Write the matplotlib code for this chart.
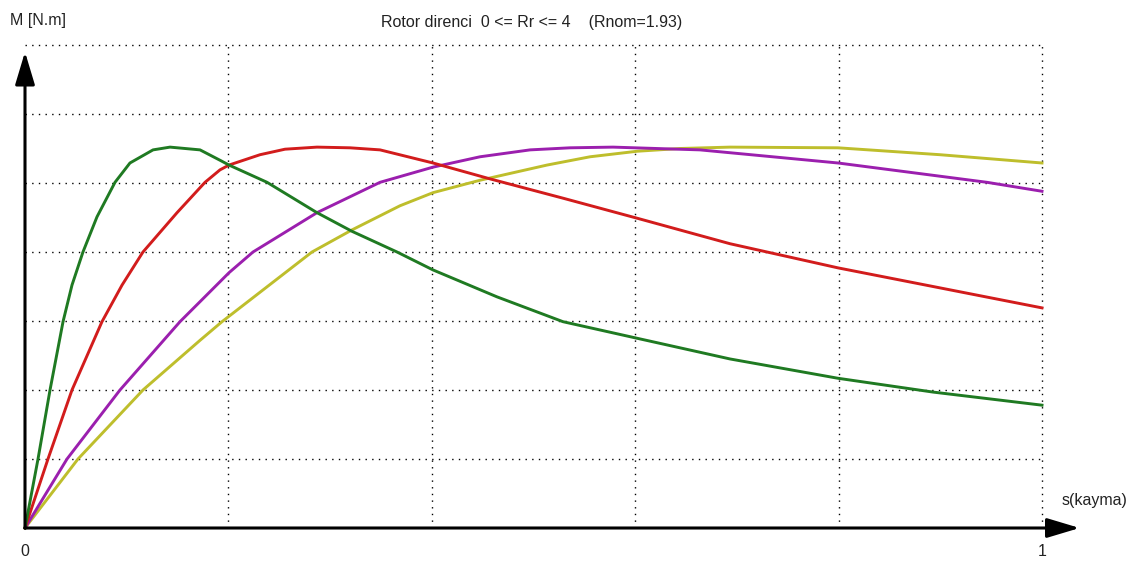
# # モジュール
import matplotlib
matplotlib.use("Agg")
import matplotlib.pyplot as plt  # グラフ描画

# # データ（画像から読み取った値。x:すべり s、y:トルク（グリッド単位））
# ## 緑（Rr 小）
s_green = [0, 0.0128, 0.0246, 0.0374, 0.0462, 0.0570, 0.0708, 0.0885, 0.1032, 0.1259, 0.1426,
           0.1721, 0.1917, 0.2006, 0.2380, 0.2871, 0.3215, 0.3658, 0.4012, 0.4641, 0.5290,
           0.6018, 0.6932, 0.7994, 0.8928, 1.0]
m_green = [0, 1.00, 2.00, 2.99, 3.52, 4.00, 4.51, 5.01, 5.29, 5.48, 5.52,
           5.48, 5.33, 5.26, 5.01, 4.57, 4.30, 4.00, 3.74, 3.35, 2.99,
           2.75, 2.45, 2.17, 1.97, 1.78]
# ## 赤
s_red = [0, 0.0226, 0.0462, 0.0757, 0.0954, 0.1160, 0.1495, 0.1770, 0.1917, 0.2006, 0.2311,
         0.2557, 0.2871, 0.3196, 0.3491, 0.4012, 0.4572, 0.5290, 0.6018, 0.6932, 0.7994, 1.0]
m_red = [0, 1.00, 2.00, 2.99, 3.52, 4.00, 4.57, 5.01, 5.19, 5.26, 5.41,
         5.49, 5.52, 5.51, 5.48, 5.29, 5.06, 4.78, 4.49, 4.12, 3.77, 3.19]
# ## 紫
s_purple = [0, 0.0413, 0.0934, 0.1524, 0.1721, 0.2006, 0.2242, 0.2871, 0.3491, 0.4012,
            0.4474, 0.4966, 0.5359, 0.5782, 0.6637, 0.7994, 0.9459, 1.0]
m_purple = [0, 1.00, 2.00, 2.99, 3.28, 3.70, 4.00, 4.57, 5.01, 5.23,
            5.38, 5.48, 5.51, 5.52, 5.48, 5.29, 5.01, 4.88]
# ## 黄
s_yellow = [0, 0.0521, 0.1160, 0.1721, 0.1937, 0.2822, 0.3215, 0.3687, 0.4012, 0.4474,
            0.5133, 0.5556, 0.6018, 0.6440, 0.6932, 0.7994, 0.8997, 1.0]
m_yellow = [0, 1.00, 2.00, 2.72, 2.99, 4.00, 4.32, 4.67, 4.86, 5.04,
            5.26, 5.38, 5.46, 5.50, 5.52, 5.51, 5.41, 5.29]

curves = [(s_yellow, m_yellow, "#bebe2c"),
          (s_purple, m_purple, "#9b1fae"),
          (s_red, m_red, "#d21c1c"),
          (s_green, m_green, "#1f7a22")]

x_grid = [0.2, 0.4, 0.6, 0.8, 1.0]
y_grid = [1, 2, 3, 4, 5, 6, 7]

title = "Rotor direnci  0 <= Rr <= 4    (Rnom=1.93)"

# # 初期設定
plt.rcParams["font.family"] = ["Liberation Sans Narrow", "Liberation Sans", "DejaVu Sans"]
plt.rcParams["lines.scale_dashes"] = False
fig = plt.figure(figsize=(11.37, 5.63), dpi=100)
ax = fig.add_axes([25 / 1137, 35 / 563, 1017 / 1137, 483 / 563])
ax.set_xlim(0, 1)
ax.set_ylim(0, 7)
ax.axis("off")

# # グリッド（点線）
dot = (0, (1.0, 3.8))
for gx in x_grid:
    ax.plot([gx, gx], [0, 7], color="black", lw=1.0, ls=dot, zorder=1, clip_on=False)
for gy in y_grid:
    ax.plot([0, 1], [gy, gy], color="black", lw=1.0, ls=dot, zorder=1, clip_on=False)

# # 曲線
for s, m, c in curves:
    ax.plot(s, m, color=c, lw=2.1, zorder=3, solid_joinstyle="round", clip_on=False)

# # 軸（矢印）
arrow = dict(arrowstyle="-|>,head_length=1.0,head_width=0.3", color="black", lw=2.2,
             mutation_scale=20, shrinkA=0, shrinkB=0)
ax.annotate("", xy=(1.037, 0), xytext=(0, 0), arrowprops=arrow, annotation_clip=False, zorder=4)
ax.annotate("", xy=(0, 6.9), xytext=(0, 0), arrowprops=arrow, annotation_clip=False, zorder=4)

# # テキスト
fig.text(10 / 1137, 1 - 20 / 563, "M [N.m]", fontsize=11.5, color="#222222", va="center", ha="left")
fig.text(532 / 1137, 1 - 22 / 563, title, fontsize=11.5, color="#222222", va="center", ha="center")
fig.text(25 / 1137, 1 - 551 / 563, "0", fontsize=11.5, color="#222222", va="center", ha="center")
fig.text(1042 / 1137, 1 - 552 / 563, "1", fontsize=11.5, color="#222222", va="center", ha="center")
fig.text(1095 / 1137, 1 - 500 / 563, "s(kayma)", fontsize=11.5, color="#222222", va="center", ha="center")

fig.savefig("out.png", dpi=100, facecolor="white")
